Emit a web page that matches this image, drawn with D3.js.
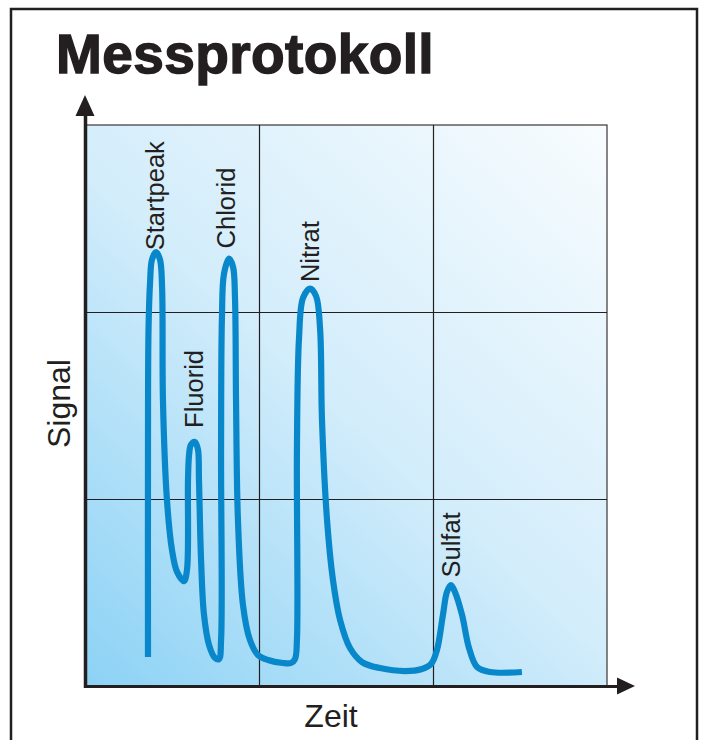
<!DOCTYPE html>
<html>
<head>
<meta charset="utf-8">
<script src="https://cdn.jsdelivr.net/npm/d3@7"></script>
<style>
  html, body { margin: 0; padding: 0; background: #fff; }
  svg { display: block; }
  text { font-family: "Liberation Sans", Arial, sans-serif; fill: #231f20; }
</style>
</head>
<body>
<svg id="chart" width="703" height="740"></svg>
<script>
// ---- data (time in arbitrary units 0..30, signal 0..30) ----
const title = "Messprotokoll";
const xLabel = "Zeit";
const yLabel = "Signal";
const gridX = [10, 20];
const gridY = [10, 20];

const time = [3.62,3.62,3.65,3.74,3.85,4.08,4.31,4.43,4.48,4.71,5.00,5.29,5.69,5.86,5.92,5.98,6.09,6.32,6.49,6.55,6.67,6.84,7.13,7.47,7.70,7.82,7.82,7.87,7.99,8.28,8.51,8.62,8.68,8.79,9.08,9.48,9.94,10.52,11.38,11.84,12.07,12.18,12.18,12.30,12.53,12.93,13.28,13.51,13.62,13.91,14.25,14.66,15.23,15.92,16.95,18.39,19.37,19.89,20.23,20.57,20.80,21.03,21.26,21.67,22.07,22.53,23.28,25.11];
const signal = [1.55,12.62,19.04,21.60,22.80,23.20,22.80,21.30,15.29,9.95,7.27,6.10,5.61,6.20,11.02,12.35,12.90,13.05,12.65,11.02,6.74,3.80,2.19,1.50,1.44,2.46,12.62,19.70,22.05,22.85,22.40,20.75,15.29,8.88,4.33,2.46,1.66,1.39,1.23,1.23,1.44,2.46,12.62,18.60,20.75,21.25,20.85,19.10,14.22,8.88,5.67,3.53,2.03,1.28,0.96,0.80,0.91,1.18,1.93,3.80,5.03,5.40,5.03,3.80,2.03,1.02,0.75,0.75];

const peakNames = ["Startpeak", "Fluorid", "Chlorid", "Nitrat", "Sulfat"];
const peakTime  = [4.02, 6.26, 8.10, 12.93, 21.03];
const peakLabelSignal = [23.3, 13.8, 23.4, 21.6, 5.8];

// ---- layout ----
const svg = d3.select("#chart");
const x = d3.scaleLinear().domain([0, 30]).range([85, 607]);
const y = d3.scaleLinear().domain([0, 30]).range([686, 125]);

// frame
svg.append("rect")
  .attr("x", 11).attr("y", 9).attr("width", 686).attr("height", 780)
  .attr("fill", "none").attr("stroke", "#231f20").attr("stroke-width", 2.5);

// title
svg.append("text")
  .attr("x", 56).attr("y", 73)
  .attr("font-size", 55).attr("font-weight", "bold")
  .attr("stroke", "#231f20").attr("stroke-width", 1.4)
  .attr("letter-spacing", 0.4)
  .text(title);

// gradient
const defs = svg.append("defs");
const grad = defs.append("linearGradient")
  .attr("id", "bg").attr("gradientUnits", "userSpaceOnUse")
  .attr("x1", x(0)).attr("y1", y(0)).attr("x2", x(30)).attr("y2", y(30));
grad.append("stop").attr("offset", 0).attr("stop-color", "#8cd2f5");
grad.append("stop").attr("offset", 0.5).attr("stop-color", "#d3edfb");
grad.append("stop").attr("offset", 1).attr("stop-color", "#f8fcfe");

svg.append("rect")
  .attr("x", x(0)).attr("y", y(30))
  .attr("width", x(30) - x(0)).attr("height", y(0) - y(30))
  .attr("fill", "url(#bg)").attr("stroke", "#3a3536").attr("stroke-width", 1.2);

// grid via axes
const gx = svg.append("g").attr("transform", `translate(0,${y(0)})`)
  .call(d3.axisBottom(x).tickValues(gridX).tickSize(-(y(0) - y(30))).tickFormat(""));
gx.select(".domain").remove();
gx.selectAll(".tick line").attr("stroke", "#231f20").attr("stroke-width", 1.2);

const gy = svg.append("g").attr("transform", `translate(${x(0)},0)`)
  .call(d3.axisLeft(y).tickValues(gridY).tickSize(-(x(30) - x(0))).tickFormat(""));
gy.select(".domain").remove();
gy.selectAll(".tick line").attr("stroke", "#231f20").attr("stroke-width", 1.2);

// curve
const pts = time.map((t, i) => [t, signal[i]]);
const line = d3.line()
  .x(d => x(d[0])).y(d => y(d[1]))
  .curve(d3.curveCatmullRom.alpha(0.5));
svg.append("path")
  .datum(pts)
  .attr("d", line)
  .attr("fill", "none")
  .attr("stroke", "#0887cb")
  .attr("stroke-width", 6.2)
  .attr("stroke-linejoin", "round")
  .attr("stroke-linecap", "butt");

// axes with arrows
const ax = svg.append("g").attr("transform", `translate(0,${y(0)})`)
  .call(d3.axisBottom(d3.scaleLinear().range([x(0) - 1.5, 618])).tickValues([]).tickSizeOuter(0));
ax.select(".domain").attr("stroke", "#231f20").attr("stroke-width", 3);
const ay = svg.append("g").attr("transform", `translate(${x(0)},0)`)
  .call(d3.axisLeft(d3.scaleLinear().range([y(0) + 1.5, 114])).tickValues([]).tickSizeOuter(0));
ay.select(".domain").attr("stroke", "#231f20").attr("stroke-width", 3.5);

svg.append("path")
  .attr("d", `M${x(0)},95 L${x(0) + 9.5},116 L${x(0) - 9.5},116 Z`)
  .attr("fill", "#231f20");
svg.append("path")
  .attr("d", `M635,${y(0)} L617,${y(0) - 8.5} L617,${y(0) + 8.5} Z`)
  .attr("fill", "#231f20");

// axis labels
svg.append("text")
  .attr("x", 331).attr("y", 727)
  .attr("text-anchor", "middle").attr("font-size", 32)
  .text(xLabel);
svg.append("text")
  .attr("transform", `translate(70,403.5) rotate(-90)`)
  .attr("text-anchor", "middle").attr("font-size", 32)
  .text(yLabel);

// peak labels
svg.selectAll("text.peak")
  .data(peakNames)
  .enter().append("text")
  .attr("class", "peak")
  .attr("transform", (d, i) => `translate(${x(peakTime[i])},${y(peakLabelSignal[i])}) rotate(-90)`)
  .attr("dy", "0.36em")
  .attr("font-size", 25.5)
  .text(d => d);
</script>
</body>
</html>
